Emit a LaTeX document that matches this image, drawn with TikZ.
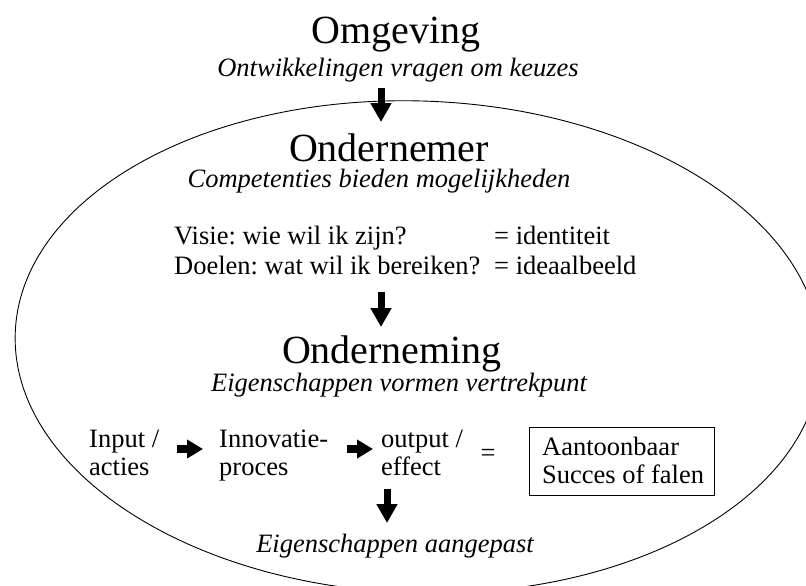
\documentclass[tikz,border=0pt]{standalone}
\usepackage{fontspec}
\setmainfont{Liberation Serif}
\usetikzlibrary{arrows.meta}
\frenchspacing
\begin{document}
\begin{tikzpicture}[x=1pt,y=-1pt,
  title/.style={font=\fontsize{40}{44}\selectfont, inner sep=0pt, anchor=base},
  sub/.style={font=\fontsize{26.5}{30}\selectfont\itshape, inner sep=0pt, anchor=base},
  txt/.style={font=\fontsize{26.5}{30}\selectfont, inner sep=0pt, anchor=base west},
  vblk/.style={line width=7pt, -{Triangle[width=20pt,length=19pt]}},
  hblk/.style={line width=8pt, -{Triangle[width=18pt,length=16pt]}},
  outline/.style={line width=0.9pt}
]
\useasboundingbox (0,0) rectangle (806,586);
\begin{scope}
  \clip (0,0) rectangle (806,586);
  \draw[outline, rotate around={-2:(418,347)}] (418,347) ellipse [x radius=403, y radius=246];
\end{scope}

\node[title] (omg) at (396,44) {Omgeving};
\node[sub] (omgs) at (398,77) {Ontwikkelingen vragen om keuzes};
\node[title] (ondr) at (389,161) {Ondernemer};
\node[sub] (ondrs) at (379,187) {Competenties bieden mogelijkheden};

\node[txt] (visie) at (174,244) {Visie: wie wil ik zijn?};
\node[txt] (ident) at (494,244) {= identiteit};
\node[txt] (doel) at (174,274) {Doelen: wat wil ik bereiken?};
\node[txt] (ideaal) at (494,274) {= ideaalbeeld};

\node[title] (ondg) at (392,363) {Onderneming};
\node[sub] (ondgs) at (399,391) {Eigenschappen vormen vertrekpunt};

\node[txt] (in1) at (89,447) {Input /};
\node[txt] (in2) at (89,475) {acties};
\node[txt] (inno1) at (219,447) {Innovatie-};
\node[txt] (inno2) at (219,475) {proces};
\node[txt] (out1) at (381,447) {output /};
\node[txt] (out2) at (381,475) {effect};
\node[txt, anchor=base] (eq) at (488,461) {=};

\node[draw, outline, minimum width=185, minimum height=68, anchor=north west, inner sep=0pt] (box) at (529,427) {};
\node[txt] (res1) at (542,455) {Aantoonbaar};
\node[txt] (res2) at (542,483) {Succes of falen};

\node[sub] (aang) at (395,552) {Eigenschappen aangepast};

\coordinate (a1s) at (381,88);
\coordinate (a1e) at (381,122);
\coordinate (a2s) at (381,292);
\coordinate (a2e) at (381,327);
\coordinate (a3s) at (387,489);
\coordinate (a3e) at (387,523);
\coordinate (ha1s) at (177,449);
\coordinate (ha1e) at (203,449);
\coordinate (hb1s) at (347,449);
\coordinate (hb1e) at (373,449);

\draw[vblk] (a1s) -- (a1e);
\draw[vblk] (a2s) -- (a2e);
\draw[vblk] (a3s) -- (a3e);
\draw[hblk] (ha1s) -- (ha1e);
\draw[hblk] (hb1s) -- (hb1e);
\end{tikzpicture}
\end{document}
